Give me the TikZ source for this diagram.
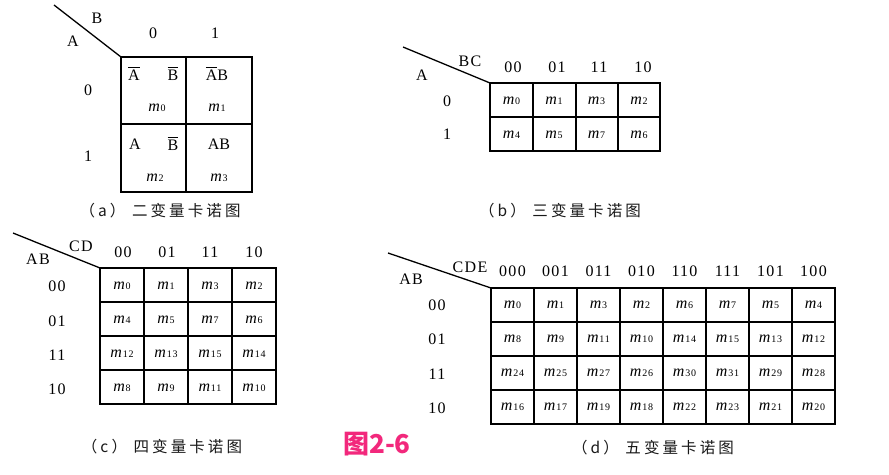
\documentclass[tikz,border=0pt]{standalone}
\usepackage{fontspec}
\setmainfont{Liberation Serif}
\newfontfamily\lbl[LetterSpace=8]{Liberation Serif}
\newfontfamily\cjk[LetterSpace=20]{Noto Sans CJK SC}
\newfontfamily\cjkt{Noto Sans CJK SC}
\definecolor{titlecol}{HTML}{F2287C}
\newcommand\mm[1]{{\itshape m}\kern0.8pt{\fontsize{10}{10}\selectfont\lbl #1}}
\newcommand\ovl[1]{\setbox0\hbox{#1}\rlap{\raisebox{\dimexpr\ht0+1.8pt\relax}{\rule{\wd0}{1pt}}}\box0}
\begin{document}
\begin{tikzpicture}[x=1pt,y=-1pt,
  gridline/.style={line width=1.3pt,black},
  midline/.style={line width=1.9pt,black},
  lab/.style={font=\fontsize{16}{18}\selectfont\lbl,inner sep=0},
  cell/.style={font=\fontsize{16}{18}\selectfont,inner sep=0},
  captext/.style={font=\fontsize{15.5}{18}\selectfont\cjk,inner sep=0,text=black!90}]
\useasboundingbox (0,0) rectangle (889,474);
\fill[white] (0,0) rectangle (889,474);

% ---------- (a) ----------
\coordinate (a-tl) at (121,57);
\coordinate (a-d) at (54,5);
\draw[gridline] (a-tl) rectangle (252,192);
\draw[gridline] (186,57) -- (186,192);
\draw[gridline] (121,124) -- (252,124);
\draw[gridline] (a-d) -- (a-tl);
\node[lab] (a-B) at (97,18) {B};
\node[lab] (a-A) at (73,41) {A};
\node[lab] (a-c0) at (153,33) {0};
\node[lab] (a-c1) at (215,33) {1};
\node[lab] (a-r0) at (88,90) {0};
\node[lab] (a-r1) at (88,156) {1};
\node[cell] (a-11) at (134,74) {\ovl{A}};
\node[cell] (a-12) at (173,74) {\ovl{B}};
\node[cell] (a-2) at (217,74) {\ovl{A}B};
\node[cell] (a-31) at (135,144) {A};
\node[cell] (a-32) at (173,144) {\ovl{B}};
\node[cell] (a-4) at (219,144) {AB};
\node[cell] (a-m0) at (157,108) {\mm{0}};
\node[cell] (a-m1) at (217,108) {\mm{1}};
\node[cell] (a-m2) at (155,178) {\mm{2}};
\node[cell] (a-m3) at (219,178) {\mm{3}};
\node[captext] (a-cap) at (160,211) {（a） 二变量卡诺图};

% ---------- (b) ----------
\coordinate (b-tl) at (490,83);
\coordinate (b-d) at (403,47);
\draw[gridline] (b-tl) rectangle (660,151);
\foreach \x in {533,576,618} \draw[gridline] (\x,83) -- (\x,151);
\draw[gridline] (490,117) -- (660,117);
\draw[gridline] (b-d) -- (b-tl);
\node[lab] (b-BC) at (470,61) {BC};
\node[lab] (b-A) at (422,75) {A};
\foreach \x/\t in {513/00,557/01,599/11,643/10} \node[lab] at (\x,67) {\t};
\node[lab] (b-r0) at (447,101) {0};
\node[lab] (b-r1) at (447,134) {1};
\foreach \row [count=\r from 0] in {{0,1,3,2},{4,5,7,6}}
  \foreach \v [count=\c from 0] in \row
    \node[cell] (b-\r\c) at ({511.5+42.5*\c},{100.5+34*\r}) {\mm{\v}};
\node[captext] (b-cap) at (560,211) {（b） 三变量卡诺图};

% ---------- (c) ----------
\coordinate (c-tl) at (100,268);
\coordinate (c-d) at (13,233);
\draw[gridline] (c-tl) rectangle (276,404);
\foreach \x in {144,232} \draw[gridline] (\x,268) -- (\x,404);
\draw[midline] (188,268) -- (188,404);
\foreach \y in {302,370} \draw[gridline] (100,\y) -- (276,\y);
\draw[midline] (100,336) -- (276,336);
\draw[gridline] (c-d) -- (c-tl);
\node[lab] (c-CD) at (81,246) {CD};
\node[lab] (c-AB) at (38,259) {AB};
\foreach \x/\t in {123/00,167/01,210/11,254/10} \node[lab] at (\x,252) {\t};
\foreach \y/\t in {286/00,321/01,355/11,389/10} \node[lab] at (57,\y) {\t};
\foreach \row [count=\r from 0] in {{0,1,3,2},{4,5,7,6},{12,13,15,14},{8,9,11,10}}
  \foreach \v [count=\c from 0] in \row
    \node[cell] (c-\r\c) at ({122+44*\c},{286+34*\r}) {\mm{\v}};
\node[captext] (c-cap) at (162,447) {（c） 四变量卡诺图};

% ---------- (d) ----------
\coordinate (d-tl) at (491,288);
\coordinate (d-d) at (388,253);
\draw[gridline] (d-tl) rectangle (835,424);
\foreach \k in {1,2,3,5,6,7} \draw[gridline] ({491+43*\k},288) -- ({491+43*\k},424);
\draw[midline] (663,288) -- (663,424);
\foreach \y in {322,356,390} \draw[gridline] (491,\y) -- (835,\y);
\draw[gridline] (d-d) -- (d-tl);
\node[lab] (d-CDE) at (470,267) {CDE};
\node[lab] (d-AB) at (411,279) {AB};
\foreach \t [count=\k from 0] in {000,001,011,010,110,111,101,100}
  \node[lab] at ({512.5+43*\k},271) {\t};
\foreach \y/\t in {305/00,339/01,374/11,408/10} \node[lab] at (437,\y) {\t};
\foreach \row [count=\r from 0] in {{0,1,3,2,6,7,5,4},{8,9,11,10,14,15,13,12},{24,25,27,26,30,31,29,28},{16,17,19,18,22,23,21,20}}
  \foreach \v [count=\c from 0] in \row
    \node[cell] (d-\r\c) at ({512.5+43*\c},{305+34*\r}) {\mm{\v}};
\node[captext] (d-cap) at (653,448) {（d） 五变量卡诺图};

% ---------- title ----------
\node[inner sep=0,text=titlecol,font=\fontsize{26}{28}\selectfont\cjkt\bfseries] (title) at (377,444) {图2-6};
\end{tikzpicture}
\end{document}
